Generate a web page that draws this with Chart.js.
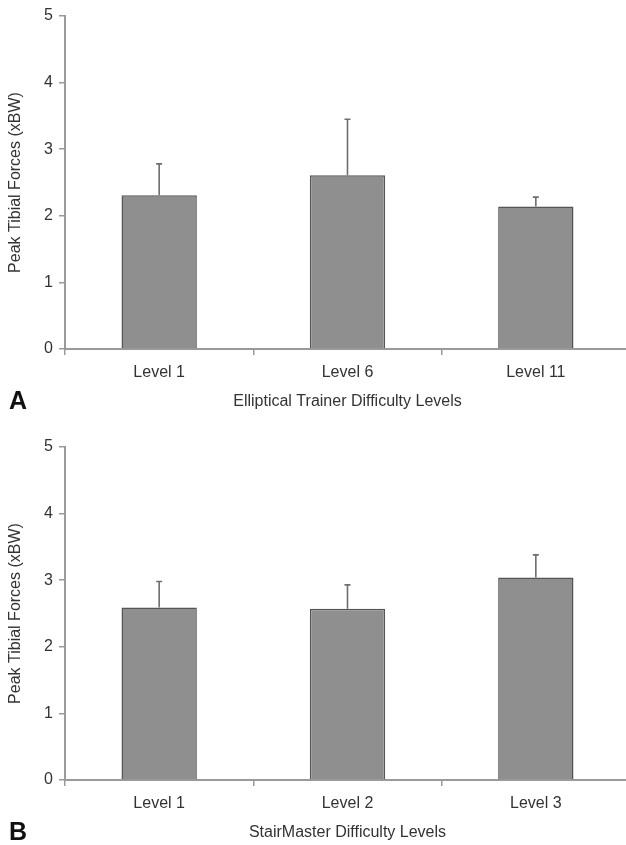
<!DOCTYPE html>
<html>
<head>
<meta charset="utf-8">
<script src="https://cdn.jsdelivr.net/npm/chart.js@4/dist/chart.umd.min.js"></script>
<style>
    body { margin: 0; width: 626px; height: 845px; overflow: hidden; position: relative; background: #fff; }
    canvas { position: absolute; left: 0; }
    #chartA { top: 0; }
    #chartB { top: 431px; }
</style>
</head>
<body>
<canvas id="chartA" width="630" height="420"></canvas>
<canvas id="chartB" width="630" height="420"></canvas>
<script>
"use strict"
// dati
const yTicks = [0, 1, 2, 3, 4, 5];
const yTitle = "Peak Tibial Forces (xBW)";

const ellipticalLabels = ["Level 1", "Level 6", "Level 11"];
const ellipticalMeans = [2.31, 2.61, 2.14];
const ellipticalSD = [0.47, 0.84, 0.14];

const stairLabels = ["Level 1", "Level 2", "Level 3"];
const stairMeans = [2.59, 2.57, 3.04];
const stairSD = [0.39, 0.36, 0.34];

const FONT = "'Liberation Sans', Arial, sans-serif";
const AXIS = "#9a9a9a";
const TEXT = "#333";

// barre di errore (solo verso l'alto)
const errorBars = {
    id: "errorBars",
    afterDatasetsDraw(chart, args, opts) {
        const ctx = chart.ctx;
        const meta = chart.getDatasetMeta(0);
        const y = chart.scales.y;
        const vals = chart.data.datasets[0].data;
        ctx.save();
        ctx.strokeStyle = "#6e6e6e";
        ctx.lineWidth = 1.6;
        meta.data.forEach((bar, i) => {
            let top = y.getPixelForValue(vals[i] + opts.errors[i]);
            ctx.beginPath();
            ctx.moveTo(bar.x, bar.y);
            ctx.lineTo(bar.x, top);
            ctx.moveTo(bar.x - 3, top);
            ctx.lineTo(bar.x + 3, top);
            ctx.stroke();
        });
        ctx.restore();
    }
};

// lettera del pannello (A / B)
const panelLetter = {
    id: "panelLetter",
    afterDraw(chart, args, opts) {
        const ctx = chart.ctx;
        ctx.save();
        ctx.font = "bold 25px " + FONT;
        ctx.fillStyle = "#111";
        ctx.textBaseline = "middle";
        ctx.fillText(opts.text, 9, 402);
        ctx.restore();
    }
};

function creaGrafico(id, labels, means, sd, xTitle, letter) {
    return new Chart(document.getElementById(id), {
        type: "bar",
        data: {
            labels: labels,
            datasets: [{
                data: means,
                backgroundColor: "#8f8f8f",
                borderColor: "#555",
                borderWidth: 1.5,
                categoryPercentage: 1,
                barPercentage: 0.40
            }]
        },
        options: {
            responsive: false,
            animation: false,
            layout: { padding: { top: 16, left: 0, right: 0, bottom: 0 } },
            plugins: {
                legend: { display: false },
                tooltip: { enabled: false },
                errorBars: { errors: sd },
                panelLetter: { text: letter }
            },
            scales: {
                x: {
                    afterFit: s => { s.height = 71; },
                    grid: { offset: true, drawOnChartArea: false, tickLength: 6, color: AXIS, lineWidth: 1.5 },
                    border: { display: true, color: AXIS, width: 2 },
                    ticks: { color: TEXT, font: { family: FONT, size: 16 }, padding: 8 },
                    title: {
                        display: true, text: xTitle, color: TEXT,
                        font: { family: FONT, size: 16 }, padding: { top: 0, bottom: 9 }
                    }
                },
                y: {
                    min: 0,
                    max: 5,
                    afterFit: s => { s.width = 65; },
                    afterBuildTicks: s => { s.ticks = yTicks.map(v => ({ value: v })); },
                    grid: { drawOnChartArea: false, tickLength: 6, color: AXIS, lineWidth: 1.5 },
                    border: { display: true, color: AXIS, width: 2 },
                    ticks: { color: TEXT, font: { family: FONT, size: 16 }, padding: 6 },
                    title: {
                        display: true, text: yTitle, color: TEXT,
                        font: { family: FONT, size: 16 }, padding: { top: 6, bottom: 0 }
                    }
                }
            }
        },
        plugins: [errorBars, panelLetter]
    });
}

creaGrafico("chartA", ellipticalLabels, ellipticalMeans, ellipticalSD, "Elliptical Trainer Difficulty Levels", "A");
creaGrafico("chartB", stairLabels, stairMeans, stairSD, "StairMaster Difficulty Levels", "B");
</script>
</body>
</html>
